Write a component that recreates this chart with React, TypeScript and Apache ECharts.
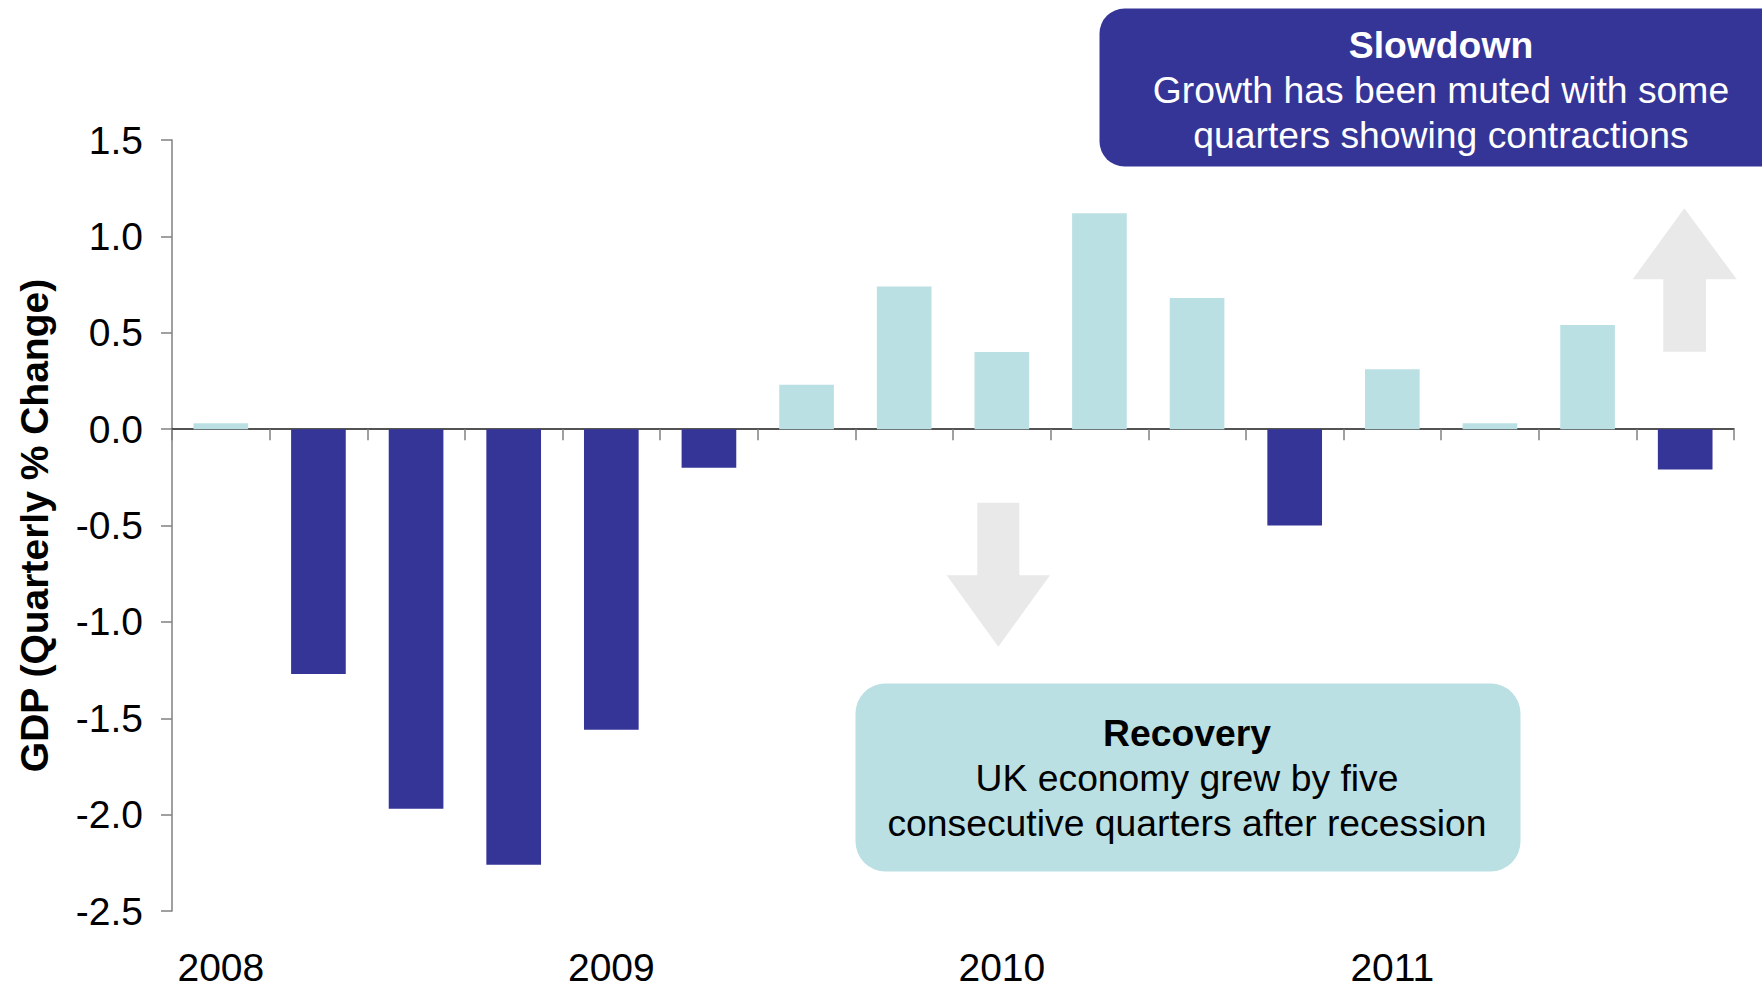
import React, { useEffect, useRef } from "react";
import * as echarts from "echarts";

const quarters = [
  "2008 Q1", "2008 Q2", "2008 Q3", "2008 Q4",
  "2009 Q1", "2009 Q2", "2009 Q3", "2009 Q4",
  "2010 Q1", "2010 Q2", "2010 Q3", "2010 Q4",
  "2011 Q1", "2011 Q2", "2011 Q3", "2011 Q4",
];
const yearLabels = ["2008", "2009", "2010", "2011"];
const gdpChange = [
  0.03, -1.27, -1.97, -2.26,
  -1.56, -0.2, 0.23, 0.74,
  0.4, 1.12, 0.68, -0.5,
  0.31, 0.03, 0.54, -0.21,
];
const yTicks = { min: -2.5, max: 1.5, interval: 0.5 };

const slowdownTitle = "Slowdown";
const slowdownLines = ["Growth has been muted with some", "quarters showing contractions"];
const recoveryTitle = "Recovery";
const recoveryLines = ["UK economy grew by five", "consecutive quarters after recession"];

const DARK = "#353598";
const LIGHT = "#bbe0e3";
const ARROW = "#e9e9e9";
const FONT = "'Liberation Sans', Arial, Helvetica, sans-serif";

export default function App() {
  const ref = useRef<HTMLDivElement>(null);

  useEffect(() => {
    if (!ref.current) return;
    const chart = echarts.init(ref.current, undefined, { renderer: "svg" });

    const textEl = (text: string, x: number, y: number, color: string, bold: boolean) => ({
      type: "text",
      z: 100,
      style: {
        text,
        x,
        y,
        fill: color,
        fontSize: 37.3,
        fontWeight: bold ? "bold" : "normal",
        fontFamily: FONT,
        textAlign: "center",
        textVerticalAlign: "middle",
      },
    });

    chart.setOption({
      animation: false,
      backgroundColor: "#ffffff",
      textStyle: { fontFamily: FONT },
      grid: {
        left: 172,
        right: 28,
        top: 140,
        bottom: 73,
        containLabel: false,
        outerBoundsMode: "none",
      },
      xAxis: [
        {
          type: "category",
          data: quarters,
          axisLine: { onZero: true, lineStyle: { color: "#1a1a1a", width: 1.5 } },
          axisTick: { show: true, length: 11, lineStyle: { color: "#808080", width: 1.5 } },
          axisLabel: { show: false },
          splitLine: { show: false },
        },
        {
          type: "category",
          data: quarters,
          position: "bottom",
          axisLine: { show: false, onZero: false },
          axisTick: { show: false },
          axisLabel: {
            interval: 0,
            margin: 42,
            fontSize: 39,
            lineHeight: 28,
            color: "#000",
            fontFamily: FONT,
            formatter: (_v: string, i: number) => (i % 4 === 0 ? yearLabels[i / 4] : ""),
          },
          splitLine: { show: false },
        },
      ],
      yAxis: {
        type: "value",
        min: yTicks.min,
        max: yTicks.max,
        interval: yTicks.interval,
        name: "GDP (Quarterly % Change)",
        nameLocation: "middle",
        nameGap: 118,
        nameTextStyle: { fontSize: 39, fontWeight: "bold", color: "#000", fontFamily: FONT },
        axisLine: { show: true, lineStyle: { color: "#808080", width: 1.5 } },
        axisTick: { show: true, length: 11, lineStyle: { color: "#808080", width: 1.5 } },
        axisLabel: {
          margin: 29,
          fontSize: 39,
          color: "#000",
          fontFamily: FONT,
          formatter: (v: number) => v.toFixed(1),
        },
        splitLine: { show: false },
      },
      series: [
        {
          type: "bar",
          xAxisIndex: 0,
          data: gdpChange,
          barWidth: "56%",
          itemStyle: {
            color: (p: any) => (p.value < 0 ? DARK : LIGHT),
          },
        },
      ],
      graphic: [
        {
          type: "polygon",
          z: 50,
          shape: {
            points: [
              [977.3, 502.7], [1019.3, 502.7], [1019.3, 575.3], [1050, 575.3],
              [998.3, 646.7], [946.7, 575.3], [977.3, 575.3],
            ],
          },
          style: { fill: ARROW },
        },
        {
          type: "polygon",
          z: 50,
          shape: {
            points: [
              [1684.3, 208.3], [1736.7, 279.3], [1706, 279.3], [1706, 351.7],
              [1663.3, 351.7], [1663.3, 279.3], [1632.7, 279.3],
            ],
          },
          style: { fill: ARROW },
        },
        {
          type: "rect",
          z: 90,
          shape: { x: 1099.5, y: 8.5, width: 700, height: 158, r: 25 },
          style: { fill: DARK },
        },
        textEl(slowdownTitle, 1441, 45, "#ffffff", true),
        textEl(slowdownLines[0], 1441, 90, "#ffffff", false),
        textEl(slowdownLines[1], 1441, 135, "#ffffff", false),
        {
          type: "rect",
          z: 90,
          shape: { x: 855.5, y: 683.5, width: 665, height: 188, r: 30 },
          style: { fill: LIGHT },
        },
        textEl(recoveryTitle, 1187, 733, "#000000", true),
        textEl(recoveryLines[0], 1187, 778, "#000000", false),
        textEl(recoveryLines[1], 1187, 823, "#000000", false),
      ],
    });

    return () => chart.dispose();
  }, []);

  return (
    <div
      ref={ref}
      style={{ position: "fixed", left: 0, top: 0, width: 1762, height: 984, background: "#fff" }}
    />
  );
}
